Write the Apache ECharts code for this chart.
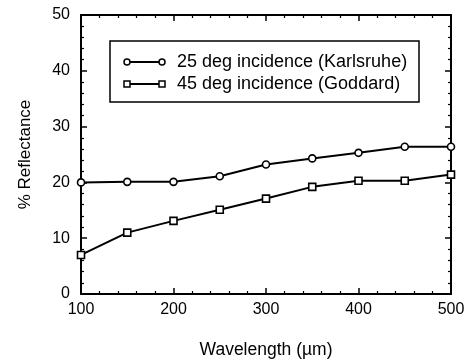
<!DOCTYPE html>
<html><head><meta charset="utf-8">
<script src="https://cdn.jsdelivr.net/npm/echarts@6/dist/echarts.min.js"></script>
<style>html,body{margin:0;padding:0;background:#fff}#c{width:476px;height:364px}</style>
</head><body><div id="c"></div>
<script>
const wavelengths = [100, 150, 200, 250, 300, 350, 400, 450, 500];
const karlsruhe25 = [20.0, 20.1, 20.1, 21.1, 23.2, 24.3, 25.3, 26.4, 26.4];
const goddard45 = [7.0, 11.0, 13.1, 15.1, 17.1, 19.2, 20.3, 20.3, 21.4];
const seriesNames = ['25 deg incidence (Karlsruhe)', '45 deg incidence (Goddard)'];
const xTitle = 'Wavelength (\u00b5m)';
const yTitle = '% Reflectance';

const FONT = '"Liberation Sans", Arial, sans-serif';
const chart = echarts.init(document.getElementById('c'), null, {renderer: 'canvas'});
const tickCommon = {show: true, inside: true, length: 6, lineStyle: {color: '#000', width: 1.5}};
const minorCommon = {show: true, splitNumber: 5, length: 3, lineStyle: {color: '#000', width: 1.2}};
const lineCommon = {show: true, onZero: false, lineStyle: {color: '#000', width: 2}};
const grid = {left: 81, right: 25, top: 15, bottom: 70};
function ser(name, data, symbol) {
  return {
    name, type: 'line', data: wavelengths.map((w, i) => [w, data[i]]),
    symbol, symbolSize: 7, showSymbol: true,
    lineStyle: {color: '#000', width: 2},
    itemStyle: {color: '#fff', borderColor: '#000', borderWidth: 1.6},
    clip: false, animation: false
  };
}
chart.setOption({
  animation: false,
  backgroundColor: '#fff',
  grid,
  xAxis: [{
    type: 'value', min: 100, max: 500, interval: 100,
    name: xTitle, nameLocation: 'middle', nameGap: 47,
    nameTextStyle: {fontFamily: FONT, fontSize: 17.5, color: '#000'},
    axisLine: lineCommon, axisTick: tickCommon, minorTick: minorCommon,
    splitLine: {show: false},
    axisLabel: {fontFamily: FONT, fontSize: 16, color: '#000', margin: 8}
  }, {
    type: 'value', position: 'top', min: 100, max: 500, interval: 100,
    axisLine: lineCommon, axisTick: tickCommon, minorTick: minorCommon,
    splitLine: {show: false}, axisLabel: {show: false}
  }],
  yAxis: [{
    type: 'value', min: 0, max: 50, interval: 10,
    name: yTitle, nameLocation: 'middle', nameGap: 47,
    nameTextStyle: {fontFamily: FONT, fontSize: 17, color: '#000'},
    axisLine: lineCommon, axisTick: tickCommon, minorTick: minorCommon,
    splitLine: {show: false},
    axisLabel: {fontFamily: FONT, fontSize: 16, color: '#000', margin: 11}
  }, {
    type: 'value', position: 'right', min: 0, max: 50, interval: 10,
    axisLine: lineCommon, axisTick: tickCommon, minorTick: minorCommon,
    splitLine: {show: false}, axisLabel: {show: false}
  }],
  series: [ser(seriesNames[0], karlsruhe25, 'circle'), ser(seriesNames[1], goddard45, 'rect')],
  graphic: [
    {type: 'rect', shape: {x: 110, y: 41, width: 309, height: 61}, style: {fill: '#fff', stroke: '#000', lineWidth: 1.5}, z: 10},
    {type: 'line', shape: {x1: 127, y1: 62, x2: 162, y2: 62}, style: {stroke: '#000', lineWidth: 2}, z: 11},
    {type: 'circle', shape: {cx: 127, cy: 62, r: 3}, style: {fill: '#fff', stroke: '#000', lineWidth: 1.5}, z: 12},
    {type: 'circle', shape: {cx: 162, cy: 62, r: 3}, style: {fill: '#fff', stroke: '#000', lineWidth: 1.5}, z: 12},
    {type: 'line', shape: {x1: 127, y1: 84, x2: 162, y2: 84}, style: {stroke: '#000', lineWidth: 2}, z: 11},
    {type: 'rect', shape: {x: 124, y: 81, width: 6, height: 6}, style: {fill: '#fff', stroke: '#000', lineWidth: 1.5}, z: 12},
    {type: 'rect', shape: {x: 159, y: 81, width: 6, height: 6}, style: {fill: '#fff', stroke: '#000', lineWidth: 1.5}, z: 12},
    {type: 'text', x: 177, y: 62, style: {text: seriesNames[0], font: '18px ' + FONT, fill: '#000', textVerticalAlign: 'middle'}, z: 12},
    {type: 'text', x: 177, y: 84, style: {text: seriesNames[1], font: '18px ' + FONT, fill: '#000', textVerticalAlign: 'middle'}, z: 12}
  ]
});
</script></body></html>
